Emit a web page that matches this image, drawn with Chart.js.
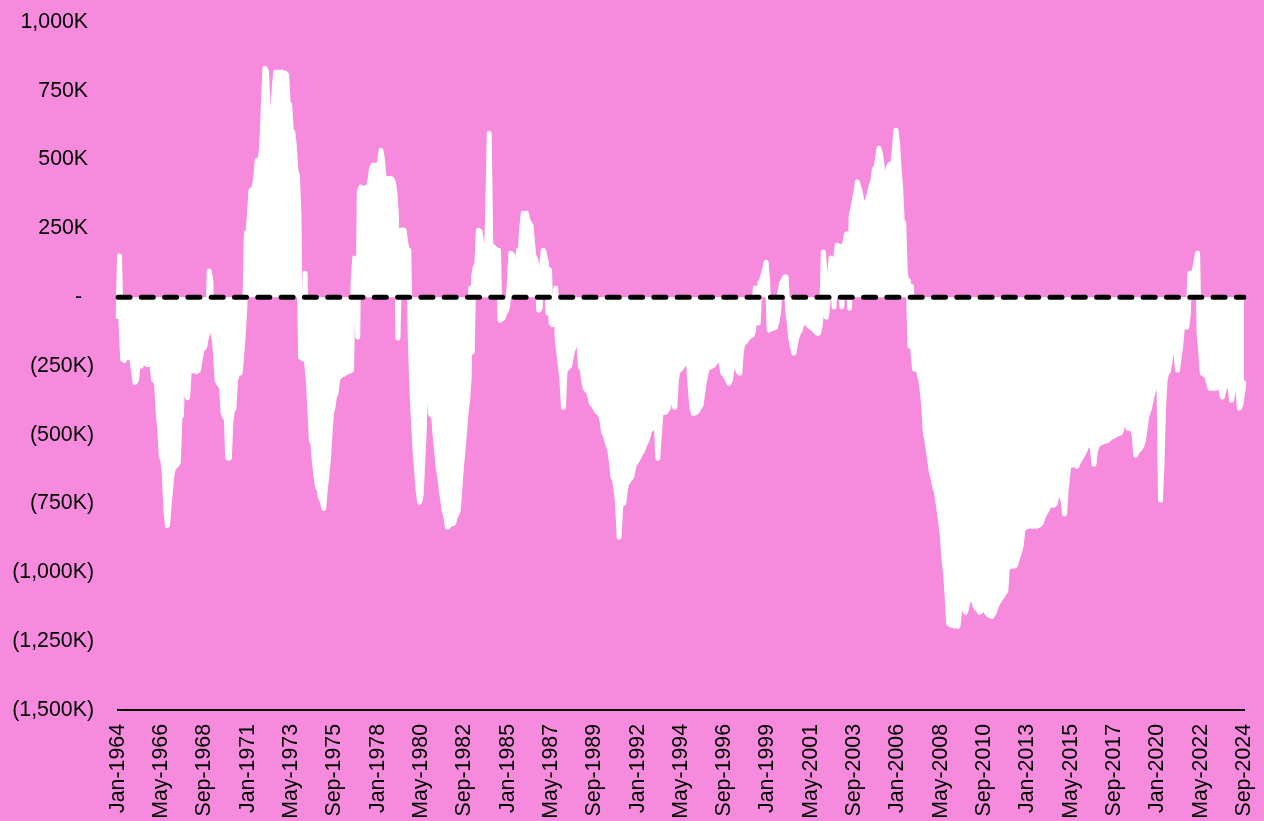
<!DOCTYPE html>
<html>
<head>
<meta charset="utf-8">
<script src="https://cdn.jsdelivr.net/npm/chart.js@4.4.1/dist/chart.umd.min.js"></script>
<style>
  html, body { margin: 0; padding: 0; background: #F68ADC; }
  #wrap { width: 1264px; height: 821px; }
</style>
</head>
<body>
<div id="wrap"><canvas id="c" width="1264" height="821"></canvas></div>
<script>
// Monthly values in thousands (K), Jan-1964 .. Sep-2024
const values1960s = [
  -70, 150, -100, -225, -230, -215, -220, -218, -222, -225, -270, -310,   // 1964
  -300, -240, -245, -250, -225, -240, -230, -245, -235, -240, -250, -300, // 1965
  -300, -320, -420, -480, -580, -590, -650, -780, -830, -760, -700, -640, // 1966
  -620, -615, -610, -600, -440, -430, -270, -265, -330, -365, -270, -265, // 1967
  -265, -268, -262, -270, -265, -230, -200, -185, -182, -150, -130, 95,   // 1968
  60, -120, -145, -200, -300, -313, -320, -330, -420, -436, -440, -585    // 1969
];
const values1970s = [
  -585, -450, -411, -405, -300, -285, -276, -276, -210, -131, -40, 233,   // 1970
  233, 300, 389, 390, 400, 430, 498, 498, 500, 560, 700, 832,             // 1971
  820, 700, 640, 637, 650, 760, 818, 815, 818, 816, 818, 815,             // 1972
  815, 810, 705, 700, 607, 600, 550, 462, 440, 300, -218, -222,           // 1973
  -225, 87, -240, -300, -400, -520, -530, -600, -650, -690, -700, -730,   // 1974
  -740, -767, -700, -650, -592, -500, -422, -400, -360, -349, -300, -290, // 1975
  -285, -276, -280, -276, -272, -270, -268, -265, 51, 142, 130, -145,     // 1976
  380, 400, 396, 395, 398, 396, 400, 430, 470, 480, 475, 480,             // 1977
  470, 480, 534, 500, 432, 430, 432, 428, 432, 430, 420, 380,             // 1978
  300, -149, 100, 243, 245, 243, 200, 171, 171, -156, -331, -450          // 1979
];
const values1980s = [
  -550, -629, -700, -745, -720, -600, -483, -300, -193, -200, -422, -430, // 1980
  -430, -500, -560, -618, -650, -700, -738, -780, -800, -836, -830, -825, // 1981
  -822, -822, -800, -790, -774, -700, -618, -560, -494, -420, -374, -300, // 1982
  33, -200, 80, 109, 120, 243, 240, 200, 134, 140, 130, 300,              // 1983
  596, 190, 185, 182, 175, 171, 171, -84, -80, -76, -58, -50,             // 1984
  -30, 50, 160, 155, 51, 124, 124, 171, 171, 250, 305, 300,               // 1985
  305, 280, 269, 260, 200, 145, 140, 100, -47, -40, 120, 171,             // 1986
  150, 124, -58, 100, -94, -100, -60, 33, -156, -200, -250, -300,         // 1987
  -400, -270, -260, -254, -250, -220, -193, -180, -170, -156, -160, -254, // 1988
  -260, -300, -330, -338, -340, -360, -385, -390, -400, -410, -418, -420  // 1989
];
const values1990s = [
  -430, -450, -494, -500, -520, -540, -556, -600, -654, -660, -700, -750, // 1990
  -872, -760, -750, -749, -700, -676, -670, -660, -654, -630, -603, -600, // 1991
  -590, -580, -567, -560, -545, -531, -520, -500, -472, -480, -470, -460, // 1992
  -450, -585, -500, -422, -420, -418, -418, -410, -400, -338, -350, -380, // 1993
  -400, -300, -270, -265, -260, -250, -240, -240, -236, -250, -330, -400, // 1994
  -422, -420, -418, -410, -400, -392, -350, -309, -280, -260, -254, -254, // 1995
  -250, -247, -240, -230, -211, -215, -240, -276, -280, -290, -300, -313, // 1996
  -300, -260, -236, -236, -250, -270, -276, -200, -167, -165, -160, -150, // 1997
  -145, -140, -138, -120, 33, -60, -94, 51, 60, 80, 100, 127,             // 1998
  60, -120, -115, -112, -112, -110, -90, -58, 20, 51, 60, 73              // 1999
];
const values2000s = [
  73, -50, -94, -150, -180, -203, -170, -145, -130, -120, -100, -91,      // 2000
  -91, -95, -100, -105, -109, -112, -118, -125, -131, -131, -100, -50,    // 2001
  164, 100, -73, -20, 60, 142, 100, -36, 140, 189, 170, 185,              // 2002
  -35, 180, 200, 230, 230, -40, 295, 320, 350, 380, 419, 400,             // 2003
  380, 349, 345, 342, 342, 360, 380, 407, 420, 465, 470, 500,             // 2004
  541, 520, 480, 407, 420, 450, 470, 483, 480, 485, 540, 607,             // 2005
  560, 465, 400, 276, 270, 90, 55, 60, -178, 40, -200, -262,              // 2006
  -255, -251, -280, -300, -342, -400, -496, -520, -560, -600, -640, -660, // 2007
  -690, -704, -740, -780, -821, -870, -950, -1000, -1080, -1185, -1190, -1192, // 2008
  -1193, -1195, -1190, -1196, -1150, -1094, -1110, -1130, -1145, -1120, -1100, -1080 // 2009
];
const values2010s = [
  -1090, -1100, -1120, -1130, -1132, -1145, -1140, -1135, -1130, -1140, -1150, -1155, // 2010
  -1158, -1160, -1150, -1140, -1120, -1110, -1100, -1094, -1085, -1075, -1068, -983,  // 2011
  -980, -978, -977, -977, -977, -960, -940, -923, -900, -847, -840, -835, // 2012
  -832, -832, -830, -832, -832, -830, -832, -830, -827, -820, -800, -788, // 2013
  -780, -770, -749, -752, -756, -756, -750, -720, -690, -700, -720, -740, // 2014
  -788, -700, -650, -600, -605, -610, -600, -605, -614, -600, -590, -581, // 2015
  -570, -560, -545, -529, -530, -540, -550, -607, -560, -540, -534, -530, // 2016
  -528, -525, -523, -523, -520, -515, -510, -501, -505, -500, -498, -494, // 2017
  -494, -480, -440, -405, -450, -476, -478, -476, -470, -500, -574, -560, // 2018
  -555, -549, -540, -520, -480, -436, -420, -400, -374, -350, -330, -302  // 2019
];
const values2020s = [
  -300, -290, -738, -600, -400, -300, -276, -270, -240, -200, -160, -145, // 2020
  -200, -265, -220, -182, -120, -58, -80, -109, -60, 87, 80, 87,          // 2021
  100, 130, 160, -131, -200, -276, -280, -270, -290, -310, -331, -330,    // 2022
  -331, -330, -331, -320, -309, -330, -363, -340, -320, -310, -302, -330, // 2023
  -374, -340, -310, -302, -330, -403, -390, -350, -313                    // 2024 (Jan-Sep)
];

const monthNames = ["Jan","Feb","Mar","Apr","May","Jun","Jul","Aug","Sep","Oct","Nov","Dec"];
const firstYear = 1964;
const tickLabels = ["Jan-1964","May-1966","Sep-1968","Jan-1971","May-1973","Sep-1975","Jan-1978",
  "May-1980","Sep-1982","Jan-1985","May-1987","Sep-1989","Jan-1992","May-1994","Sep-1996",
  "Jan-1999","May-2001","Sep-2003","Jan-2006","May-2008","Sep-2010","Jan-2013","May-2015",
  "Sep-2017","Jan-2020","May-2022","Sep-2024"];
const yTicks = [-1500, -1250, -1000, -750, -500, -250, 0, 250, 500, 750, 1000];

const values = [].concat(values1960s, values1970s, values1980s, values1990s, values2000s, values2010s, values2020s);
const categories = values.map((_, i) => monthNames[i % 12] + "-" + (firstYear + Math.floor(i / 12)));
const zeroLine = values.map(() => 0);

function fmtY(v) {
  if (v === 0) return "-  ";
  const s = Math.abs(v).toLocaleString("en-US") + "K";
  return v < 0 ? "(" + s + ")" : s + " ";
}

const FONT = { family: "'Liberation Sans', Arial, sans-serif", size: 21.33 };

function zeroPad(scale) {
  scale.paddingLeft = 0; scale.paddingRight = 0;
  scale.paddingTop = 0; scale.paddingBottom = 0;
}

new Chart(document.getElementById("c"), {
  type: "line",
  data: {
    labels: categories,
    datasets: [
      {
        data: zeroLine,
        borderColor: "#000000",
        borderWidth: 5,
        borderDash: [12, 11.3],
        borderCapStyle: "round",
        pointRadius: 0,
        fill: false
      },
      {
        data: values,
        borderColor: "#FFFFFF",
        backgroundColor: "#FFFFFF",
        borderWidth: 5,
        borderJoinStyle: "round",
        borderCapStyle: "round",
        pointRadius: 0,
        tension: 0,
        fill: "origin"
      }
    ]
  },
  options: {
    responsive: false,
    animation: false,
    maintainAspectRatio: false,
    layout: { padding: { top: 22, right: 20, left: 12, bottom: 2 } },
    plugins: { legend: { display: false }, tooltip: { enabled: false } },
    scales: {
      x: {
        grid: { display: false, drawTicks: false },
        border: { display: true, color: "#000000", width: 2 },
        afterFit: function (scale) { zeroPad(scale); scale.height = 109; },
        ticks: {
          autoSkip: false,
          minRotation: 90,
          maxRotation: 90,
          padding: 14,
          color: "#000000",
          font: FONT,
          callback: function (v, i) {
            const lab = categories[i];
            return tickLabels.indexOf(lab) >= 0 ? lab : null;
          }
        }
      },
      y: {
        min: -1500,
        max: 1000,
        grid: { display: false, drawTicks: false },
        border: { display: false },
        afterFit: function (scale) { zeroPad(scale); scale.width = 106; },
        afterBuildTicks: function (axis) { axis.ticks = yTicks.map(v => ({ value: v })); },
        ticks: {
          padding: 24,
          color: "#000000",
          font: FONT,
          callback: function (v) { return fmtY(v); }
        }
      }
    }
  }
});
</script>
</body>
</html>
